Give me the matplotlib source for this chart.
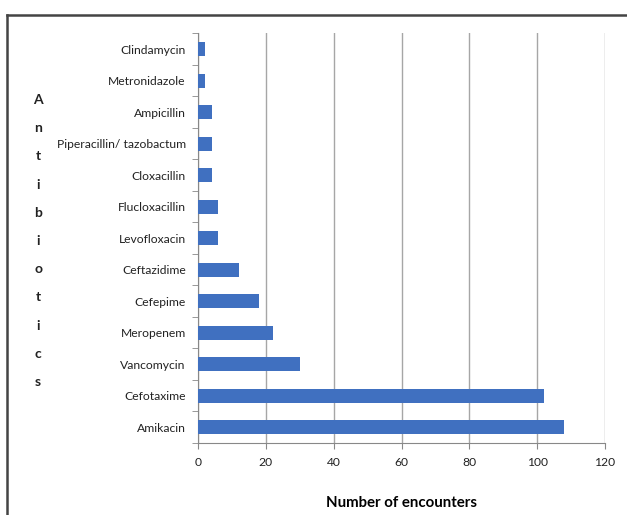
import matplotlib
matplotlib.use("Agg")
import matplotlib.pyplot as plt
from matplotlib.lines import Line2D
import numpy as np

antibiotics = ["Amikacin", "Cefotaxime", "Vancomycin", "Meropenem", "Cefepime",
               "Ceftazidime", "Levofloxacin", "Flucloxacillin", "Cloxacillin",
               "Piperacillin/ tazobactum", "Ampicillin", "Metronidazole", "Clindamycin"]
encounters = [108, 102, 30, 22, 18, 12, 6, 6, 4, 4, 4, 2, 2]
x_ticks = [0, 20, 40, 60, 80, 100, 120]
y_title = "Antibiotics"

plt.rcParams['font.family'] = ['Lato', 'DejaVu Sans']

fig = plt.figure(figsize=(6.27, 5.15), dpi=100)
ax = fig.add_axes([0.316, 0.140, 0.649, 0.795])

pos = np.arange(len(antibiotics))
ax.barh(pos, encounters, height=0.45, color='#4070C0', zorder=3)

ax.set_xlim(0, 120)
ax.set_ylim(-0.5, len(antibiotics) - 0.5)
ax.set_xticks(x_ticks)
ax.set_yticks(pos)
ax.set_yticklabels(antibiotics)
ax.set_yticks(np.arange(-0.5, len(antibiotics), 1), minor=True)
ax.tick_params(axis='y', which='major', length=0, pad=9, labelsize=8.7, colors='#222222')
ax.tick_params(axis='y', which='minor', length=4, color='#888888')
ax.tick_params(axis='x', length=4, color='#888888', pad=6, labelsize=8.7, labelcolor='#222222')
ax.grid(axis='x', color='#a6a6a6', linewidth=1.0, zorder=0)

for s in ['top', 'right']:
    ax.spines[s].set_visible(False)
for s in ['left', 'bottom']:
    ax.spines[s].set_color('#888888')

ax.set_xlabel("Number of encounters", fontsize=10.8, fontweight='bold', labelpad=20)

# vertical stacked axis title, one letter per line
for i, ch in enumerate(y_title):
    y_px = 100 + 28.2 * i
    fig.text(0.061, 1 - y_px / 515, ch, ha='center', va='center',
             fontsize=10, fontweight='bold', color='#222222')

# frame lines (left and top)
fig.add_artist(Line2D([0.011, 0.011], [0.0, 0.971], transform=fig.transFigure,
                      color='#444444', linewidth=1.8))
fig.add_artist(Line2D([0.011, 1.0], [0.971, 0.971], transform=fig.transFigure,
                      color='#444444', linewidth=1.8))

fig.savefig("out.png", dpi=100)
